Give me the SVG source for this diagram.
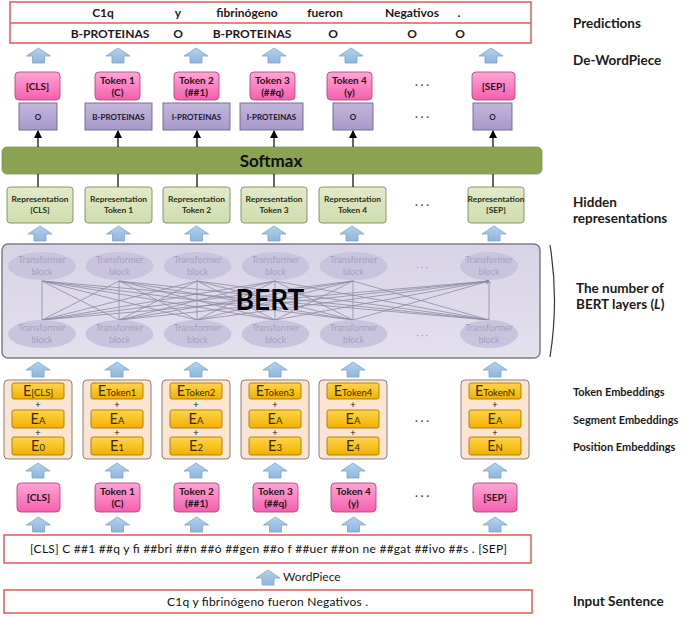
<svg xmlns="http://www.w3.org/2000/svg" width="685" height="617" viewBox="0 0 685 617">
<defs>
<linearGradient id="gPink" x1="0" y1="0" x2="0" y2="1"><stop offset="0" stop-color="#FFA6D6"/><stop offset="1" stop-color="#F45FAE"/></linearGradient>
<linearGradient id="gPurple" x1="0" y1="0" x2="0" y2="1"><stop offset="0" stop-color="#C2B6DC"/><stop offset="1" stop-color="#A899C9"/></linearGradient>
<linearGradient id="gRep" x1="0" y1="0" x2="0" y2="1"><stop offset="0" stop-color="#E2EAC9"/><stop offset="1" stop-color="#CFDCAE"/></linearGradient>
<linearGradient id="gOrange" x1="0" y1="0" x2="0" y2="1"><stop offset="0" stop-color="#FFD54A"/><stop offset="1" stop-color="#F2B000"/></linearGradient>
<linearGradient id="gBlue" x1="0" y1="0" x2="0" y2="1"><stop offset="0" stop-color="#B4D2EE"/><stop offset="1" stop-color="#8DB5DD"/></linearGradient>
<linearGradient id="gBert" x1="0" y1="0" x2="0" y2="1"><stop offset="0" stop-color="#D8D3E6"/><stop offset="1" stop-color="#E4E0EE"/></linearGradient>
<path id="blk" d="M0,0 L12,8 L6,8 L6,15 L-6,15 L-6,8 L-12,8 Z" fill="url(#gBlue)" stroke="#7FA3C8" stroke-width="0.8"/>
<marker id="ah" viewBox="0 0 8 8" refX="7" refY="4" markerWidth="7" markerHeight="7" orient="auto"><path d="M0,0 L8,4 L0,8 Z" fill="#000"/></marker>
<marker id="ahg" viewBox="0 0 8 8" refX="7" refY="4" markerWidth="5" markerHeight="5" orient="auto"><path d="M0,0 L8,4 L0,8" fill="none" stroke="#8E8AA4" stroke-width="1.2"/></marker>
<style>
text{font-family:Lato,"Liberation Sans",sans-serif;}
.redbox{fill:#fff;stroke:#E05A5A;stroke-width:1.5;}
.pink{fill:url(#gPink);stroke:#B9467F;stroke-width:0.9;}
.purple{fill:url(#gPurple);stroke:#6F6390;stroke-width:0.9;}
.rep{fill:url(#gRep);stroke:#7D8C5C;stroke-width:0.9;}
.outer{fill:#FCE4D2;stroke:#8A7F78;stroke-width:1;}
.orange{fill:url(#gOrange);stroke:#A87A00;stroke-width:0.9;}
.ell{fill:#C9C4DD;}
.tl{font-size:12px;font-weight:bold;fill:#1a1a1a;text-anchor:middle;}
.lab{font-size:13.5px;font-weight:bold;fill:#1a1a1a;}
.slab{font-size:11px;font-weight:bold;fill:#1a1a1a;}
.pt{font-size:10px;font-weight:bold;fill:#2a1020;text-anchor:middle;}
.ut{font-size:8px;font-weight:bold;fill:#1f1830;text-anchor:middle;}
.rt{font-size:8.4px;font-weight:bold;fill:#2a3018;text-anchor:middle;}
.tt{font-size:9px;fill:#A5A0BE;text-anchor:middle;}
.et{font-size:14.5px;fill:#3a2a00;text-anchor:middle;}
.es{font-size:9.5px;}
.plus{font-size:10px;fill:#222;text-anchor:middle;}
.dots{font-size:11px;fill:#333;text-anchor:middle;}
.conn{stroke:#000;stroke-width:1.2;fill:none;}
.tr{stroke:#8E8AA4;stroke-width:0.8;fill:none;}
</style>
</defs>
<rect width="685" height="617" fill="#fff"/>

<g id="predictions">
<rect class="redbox" x="10" y="2" width="521" height="41"/>
<line x1="10" y1="23" x2="531" y2="23" stroke="#E05A5A" stroke-width="1.5"/>
<text class="tl" x="103" y="17">C1q</text>
<text class="tl" x="178" y="17">y</text>
<text class="tl" x="247" y="17">fibrinógeno</text>
<text class="tl" x="325" y="17">fueron</text>
<text class="tl" x="412" y="17">Negativos</text>
<text class="tl" x="459" y="17">.</text>
<text class="tl" x="110" y="38">B-PROTEINAS</text>
<text class="tl" x="178" y="38">O</text>
<text class="tl" x="252" y="38">B-PROTEINAS</text>
<text class="tl" x="333" y="38">O</text>
<text class="tl" x="412" y="38">O</text>
<text class="tl" x="460" y="38">O</text>
</g>

<g id="labels">
<text class="lab" x="573" y="28">Predictions</text>
<text class="lab" x="573" y="65">De-WordPiece</text>
<text class="lab" x="573" y="207">Hidden</text>
<text class="lab" x="573" y="223">representations</text>
<text class="lab" x="576" y="293">The number of</text>
<text class="lab" x="576" y="309">BERT layers (<tspan font-style="italic">L</tspan>)</text>
<text class="slab" x="573" y="396">Token Embeddings</text>
<text class="slab" x="573" y="424">Segment Embeddings</text>
<text class="slab" x="573" y="451">Position Embeddings</text>
<text class="lab" x="573" y="606">Input Sentence</text>
</g>

<g id="block-arrows">
<use href="#blk" x="38.5" y="48"/><use href="#blk" x="118" y="48"/><use href="#blk" x="196" y="48"/><use href="#blk" x="274" y="48"/><use href="#blk" x="351" y="48"/><use href="#blk" x="491" y="48"/>
<use href="#blk" x="40" y="226"/><use href="#blk" x="118.5" y="226"/><use href="#blk" x="196.5" y="226"/><use href="#blk" x="274" y="226"/><use href="#blk" x="352" y="226"/><use href="#blk" x="494" y="226"/>
<use href="#blk" x="38" y="362"/><use href="#blk" x="117" y="362"/><use href="#blk" x="196" y="362"/><use href="#blk" x="275" y="362"/><use href="#blk" x="353" y="362"/><use href="#blk" x="495" y="362"/>
<use href="#blk" x="38" y="463"/><use href="#blk" x="117" y="463"/><use href="#blk" x="196" y="463"/><use href="#blk" x="275" y="463"/><use href="#blk" x="353" y="463"/><use href="#blk" x="495" y="463"/>
<use href="#blk" x="38.5" y="517"/><use href="#blk" x="117.5" y="517"/><use href="#blk" x="196.5" y="517"/><use href="#blk" x="275.5" y="517"/><use href="#blk" x="353.5" y="517"/><use href="#blk" x="495" y="517"/>
<use href="#blk" x="268" y="570"/>
</g>

<g id="top-tokens">
<rect class="pink" x="15" y="72" width="45" height="28" rx="4"/><text class="pt" x="37.5" y="90">[CLS]</text>
<rect class="pink" x="95" y="72" width="45" height="28" rx="4"/><text class="pt" x="117.5" y="84">Token 1</text><text class="pt" x="117.5" y="96">(C)</text>
<rect class="pink" x="174" y="72" width="45" height="28" rx="4"/><text class="pt" x="196.5" y="84">Token 2</text><text class="pt" x="196.5" y="96">(##1)</text>
<rect class="pink" x="250" y="72" width="45" height="28" rx="4"/><text class="pt" x="272.5" y="84">Token 3</text><text class="pt" x="272.5" y="96">(##q)</text>
<rect class="pink" x="327" y="72" width="45" height="28" rx="4"/><text class="pt" x="349.5" y="84">Token 4</text><text class="pt" x="349.5" y="96">(y)</text>
<text class="dots" x="422" y="89">· · ·</text>
<rect class="pink" x="472" y="72" width="43" height="28" rx="4"/><text class="pt" x="493.5" y="90">[SEP]</text>
</g>

<g id="tags">
<rect class="purple" x="19" y="103" width="38" height="27"/><text class="ut" x="38" y="120">O</text>
<rect class="purple" x="85" y="103" width="67" height="27"/><text class="ut" x="118.5" y="120">B-PROTEINAS</text>
<rect class="purple" x="163" y="103" width="67" height="27"/><text class="ut" x="196.5" y="120">I-PROTEINAS</text>
<rect class="purple" x="240" y="103" width="63" height="27"/><text class="ut" x="271.5" y="120">I-PROTEINAS</text>
<rect class="purple" x="333" y="103" width="40" height="27"/><text class="ut" x="353" y="120">O</text>
<text class="dots" x="422" y="121">· · ·</text>
<rect class="purple" x="473" y="103" width="39" height="27"/><text class="ut" x="492.5" y="120">O</text>
</g>

<g id="softmax">
<rect x="2" y="147" width="540" height="27" rx="5" fill="#8BA251" stroke="#7D9448" stroke-width="0.8"/>
<text x="271" y="167" font-size="17" font-weight="bold" fill="#111" text-anchor="middle">Softmax</text>
</g>

<g id="representations">
<rect class="rep" x="7" y="187" width="66" height="36" rx="3"/><text class="rt" x="40" y="202">Representation</text><text class="rt" x="40" y="213">[CLS]</text>
<rect class="rep" x="85" y="187" width="67" height="36" rx="3"/><text class="rt" x="118.5" y="202">Representation</text><text class="rt" x="118.5" y="213">Token 1</text>
<rect class="rep" x="163" y="187" width="67" height="36" rx="3"/><text class="rt" x="196.5" y="202">Representation</text><text class="rt" x="196.5" y="213">Token 2</text>
<rect class="rep" x="241" y="187" width="66" height="36" rx="3"/><text class="rt" x="274" y="202">Representation</text><text class="rt" x="274" y="213">Token 3</text>
<rect class="rep" x="319" y="187" width="67" height="36" rx="3"/><text class="rt" x="352.5" y="202">Representation</text><text class="rt" x="352.5" y="213">Token 4</text>
<text class="dots" x="422" y="209">· · ·</text>
<rect class="rep" x="468" y="187" width="56" height="36" rx="3"/><text class="rt" x="496" y="202">Representation</text><text class="rt" x="496" y="213">[SEP]</text>
</g>

<g id="connectors">
<line class="conn" x1="38" y1="147" x2="38" y2="131" marker-end="url(#ah)"/>
<line class="conn" x1="118" y1="147" x2="118" y2="131" marker-end="url(#ah)"/>
<line class="conn" x1="197" y1="147" x2="197" y2="131" marker-end="url(#ah)"/>
<line class="conn" x1="274" y1="147" x2="274" y2="131" marker-end="url(#ah)"/>
<line class="conn" x1="353" y1="147" x2="353" y2="131" marker-end="url(#ah)"/>
<line class="conn" x1="493" y1="147" x2="493" y2="131" marker-end="url(#ah)"/>
<line class="conn" x1="38" y1="174" x2="38" y2="187"/>
<line class="conn" x1="118" y1="174" x2="118" y2="187"/>
<line class="conn" x1="197" y1="174" x2="197" y2="187"/>
<line class="conn" x1="274" y1="174" x2="274" y2="187"/>
<line class="conn" x1="353" y1="174" x2="353" y2="187"/>
<line class="conn" x1="493" y1="174" x2="493" y2="187"/>
</g>

<g id="bert">
<rect x="2" y="244" width="538" height="114" rx="6" fill="url(#gBert)" stroke="#7E7E84" stroke-width="1.5"/>
<g id="transformer-links">
<path class="tr" marker-end="url(#ahg)" d="M42,320 L42,281 M42,320 L119,281 M42,320 L197,281 M42,320 L275,281 M42,320 L353,281 M42,320 L489,281"/>
<path class="tr" marker-end="url(#ahg)" d="M119,320 L42,281 M119,320 L119,281 M119,320 L197,281 M119,320 L275,281 M119,320 L353,281 M119,320 L489,281"/>
<path class="tr" marker-end="url(#ahg)" d="M197,320 L42,281 M197,320 L119,281 M197,320 L197,281 M197,320 L275,281 M197,320 L353,281 M197,320 L489,281"/>
<path class="tr" marker-end="url(#ahg)" d="M275,320 L42,281 M275,320 L119,281 M275,320 L197,281 M275,320 L275,281 M275,320 L353,281 M275,320 L489,281"/>
<path class="tr" marker-end="url(#ahg)" d="M353,320 L42,281 M353,320 L119,281 M353,320 L197,281 M353,320 L275,281 M353,320 L353,281 M353,320 L489,281"/>
<path class="tr" marker-end="url(#ahg)" d="M489,320 L42,281 M489,320 L119,281 M489,320 L197,281 M489,320 L275,281 M489,320 L353,281 M489,320 L489,281"/>
</g>
<g id="tb-top">
<ellipse class="ell" cx="42" cy="266" rx="34" ry="14"/><text class="tt" x="42" y="263">Transformer</text><text class="tt" x="42" y="275">block</text>
<ellipse class="ell" cx="119.5" cy="266" rx="34" ry="14"/><text class="tt" x="119.5" y="263">Transformer</text><text class="tt" x="119.5" y="275">block</text>
<ellipse class="ell" cx="197.5" cy="266" rx="34" ry="14"/><text class="tt" x="197.5" y="263">Transformer</text><text class="tt" x="197.5" y="275">block</text>
<ellipse class="ell" cx="275.5" cy="266" rx="34" ry="14"/><text class="tt" x="275.5" y="263">Transformer</text><text class="tt" x="275.5" y="275">block</text>
<ellipse class="ell" cx="353.5" cy="266" rx="34" ry="14"/><text class="tt" x="353.5" y="263">Transformer</text><text class="tt" x="353.5" y="275">block</text>
<text class="tt" x="422" y="270">· · ·</text>
<ellipse class="ell" cx="489" cy="266" rx="29" ry="14"/><text class="tt" x="489" y="263">Transformer</text><text class="tt" x="489" y="275">block</text>
</g>
<g id="tb-bottom">
<ellipse class="ell" cx="42" cy="334" rx="34" ry="14"/><text class="tt" x="42" y="331">Transformer</text><text class="tt" x="42" y="343">block</text>
<ellipse class="ell" cx="119.5" cy="334" rx="34" ry="14"/><text class="tt" x="119.5" y="331">Transformer</text><text class="tt" x="119.5" y="343">block</text>
<ellipse class="ell" cx="197.5" cy="334" rx="34" ry="14"/><text class="tt" x="197.5" y="331">Transformer</text><text class="tt" x="197.5" y="343">block</text>
<ellipse class="ell" cx="275.5" cy="334" rx="34" ry="14"/><text class="tt" x="275.5" y="331">Transformer</text><text class="tt" x="275.5" y="343">block</text>
<ellipse class="ell" cx="353.5" cy="334" rx="34" ry="14"/><text class="tt" x="353.5" y="331">Transformer</text><text class="tt" x="353.5" y="343">block</text>
<text class="tt" x="422" y="338">· · ·</text>
<ellipse class="ell" cx="489" cy="334" rx="29" ry="14"/><text class="tt" x="489" y="331">Transformer</text><text class="tt" x="489" y="343">block</text>
</g>
<text x="270" y="310" font-size="28" font-weight="bold" fill="#000" text-anchor="middle">BERT</text>
</g>
<path id="brace" d="M550,245 Q559,300 550,357" fill="none" stroke="#333" stroke-width="1.2"/>

<g id="embeddings">
<g id="emb-cls">
<rect class="outer" x="4" y="380" width="68" height="79" rx="4"/>
<rect class="orange" x="12" y="383" width="52" height="16" rx="2"/><rect class="orange" x="12" y="410" width="52" height="18" rx="2"/><rect class="orange" x="12" y="437" width="52" height="18" rx="2"/>
<text class="et" x="38" y="396">E<tspan class="es">[CLS]</tspan></text><text class="plus" x="38" y="408">+</text>
<text class="et" x="38" y="424">E<tspan class="es">A</tspan></text><text class="plus" x="38" y="436">+</text>
<text class="et" x="38" y="451">E<tspan class="es">0</tspan></text>
</g>
<g id="emb-t1">
<rect class="outer" x="83" y="380" width="68" height="79" rx="4"/>
<rect class="orange" x="91" y="383" width="52" height="16" rx="2"/><rect class="orange" x="91" y="410" width="52" height="18" rx="2"/><rect class="orange" x="91" y="437" width="52" height="18" rx="2"/>
<text class="et" x="117" y="396">E<tspan class="es">Token1</tspan></text><text class="plus" x="117" y="408">+</text>
<text class="et" x="117" y="424">E<tspan class="es">A</tspan></text><text class="plus" x="117" y="436">+</text>
<text class="et" x="117" y="451">E<tspan class="es">1</tspan></text>
</g>
<g id="emb-t2">
<rect class="outer" x="162" y="380" width="68" height="79" rx="4"/>
<rect class="orange" x="170" y="383" width="52" height="16" rx="2"/><rect class="orange" x="170" y="410" width="52" height="18" rx="2"/><rect class="orange" x="170" y="437" width="52" height="18" rx="2"/>
<text class="et" x="196" y="396">E<tspan class="es">Token2</tspan></text><text class="plus" x="196" y="408">+</text>
<text class="et" x="196" y="424">E<tspan class="es">A</tspan></text><text class="plus" x="196" y="436">+</text>
<text class="et" x="196" y="451">E<tspan class="es">2</tspan></text>
</g>
<g id="emb-t3">
<rect class="outer" x="241" y="380" width="68" height="79" rx="4"/>
<rect class="orange" x="249" y="383" width="52" height="16" rx="2"/><rect class="orange" x="249" y="410" width="52" height="18" rx="2"/><rect class="orange" x="249" y="437" width="52" height="18" rx="2"/>
<text class="et" x="275" y="396">E<tspan class="es">Token3</tspan></text><text class="plus" x="275" y="408">+</text>
<text class="et" x="275" y="424">E<tspan class="es">A</tspan></text><text class="plus" x="275" y="436">+</text>
<text class="et" x="275" y="451">E<tspan class="es">3</tspan></text>
</g>
<g id="emb-t4">
<rect class="outer" x="319" y="380" width="68" height="79" rx="4"/>
<rect class="orange" x="327" y="383" width="52" height="16" rx="2"/><rect class="orange" x="327" y="410" width="52" height="18" rx="2"/><rect class="orange" x="327" y="437" width="52" height="18" rx="2"/>
<text class="et" x="353" y="396">E<tspan class="es">Token4</tspan></text><text class="plus" x="353" y="408">+</text>
<text class="et" x="353" y="424">E<tspan class="es">A</tspan></text><text class="plus" x="353" y="436">+</text>
<text class="et" x="353" y="451">E<tspan class="es">4</tspan></text>
</g>
<text class="dots" x="422" y="425">· · ·</text>
<g id="emb-sep">
<rect class="outer" x="461" y="380" width="68" height="79" rx="4"/>
<rect class="orange" x="469" y="383" width="52" height="16" rx="2"/><rect class="orange" x="469" y="410" width="52" height="18" rx="2"/><rect class="orange" x="469" y="437" width="52" height="18" rx="2"/>
<text class="et" x="495" y="396">E<tspan class="es">TokenN</tspan></text><text class="plus" x="495" y="408">+</text>
<text class="et" x="495" y="424">E<tspan class="es">A</tspan></text><text class="plus" x="495" y="436">+</text>
<text class="et" x="495" y="451">E<tspan class="es">N</tspan></text>
</g>
</g>

<g id="input-tokens">
<rect class="pink" x="17" y="483" width="43" height="29" rx="4"/><text class="pt" x="38.5" y="501">[CLS]</text>
<rect class="pink" x="95" y="483" width="45" height="29" rx="4"/><text class="pt" x="117.5" y="495">Token 1</text><text class="pt" x="117.5" y="507">(C)</text>
<rect class="pink" x="174" y="483" width="45" height="29" rx="4"/><text class="pt" x="196.5" y="495">Token 2</text><text class="pt" x="196.5" y="507">(##1)</text>
<rect class="pink" x="253" y="483" width="45" height="29" rx="4"/><text class="pt" x="275.5" y="495">Token 3</text><text class="pt" x="275.5" y="507">(##q)</text>
<rect class="pink" x="331" y="483" width="45" height="29" rx="4"/><text class="pt" x="353.5" y="495">Token 4</text><text class="pt" x="353.5" y="507">(y)</text>
<text class="dots" x="422" y="500">· · ·</text>
<rect class="pink" x="473" y="483" width="44" height="29" rx="4"/><text class="pt" x="495" y="501">[SEP]</text>
</g>

<g id="wordpiece">
<rect class="redbox" x="4" y="535" width="527" height="28"/>
<text x="30" y="553" font-size="12" fill="#111" textLength="477" lengthAdjust="spacing">[CLS] C ##1 ##q y fi ##bri ##n ##ó ##gen ##o f ##uer ##on ne ##gat ##ivo ##s . [SEP]</text>
</g>
<text x="283" y="581" font-size="12" fill="#222">WordPiece</text>

<g id="input-sentence">
<rect class="redbox" x="4" y="590" width="528" height="23"/>
<text x="167" y="606" font-size="12" fill="#111" textLength="201" lengthAdjust="spacing">C1q y fibrinógeno fueron Negativos .</text>
</g>
</svg>
